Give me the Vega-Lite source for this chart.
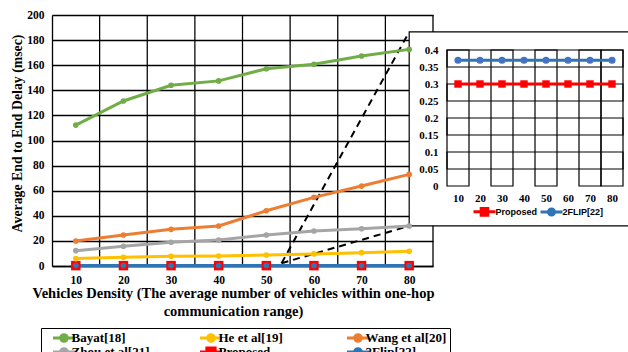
{
  "$schema": "https://vega.github.io/schema/vega-lite/v6.json",
  "width": 381,
  "height": 251,
  "autosize": "none",
  "padding": {"left": 52, "top": 15, "right": 195, "bottom": 86},
  "background": "white",
  "config": {
    "view": {"stroke": null},
    "font": "Liberation Serif",
    "axis": {"labelFont": "Liberation Serif", "labelFontWeight": "bold", "labelColor": "black", "titleFont": "Liberation Serif", "titleFontWeight": "bold", "titleColor": "black", "gridColor": "black", "gridOpacity": 1, "domainColor": "black"}
  },
  "datasets": {
    "main": [
      {"x": 10, "series": "Bayat[18]", "delay": 112.3}, {"x": 20, "series": "Bayat[18]", "delay": 131.5}, {"x": 30, "series": "Bayat[18]", "delay": 144}, {"x": 40, "series": "Bayat[18]", "delay": 147.5}, {"x": 50, "series": "Bayat[18]", "delay": 157.2}, {"x": 60, "series": "Bayat[18]", "delay": 160.7}, {"x": 70, "series": "Bayat[18]", "delay": 167.3}, {"x": 80, "series": "Bayat[18]", "delay": 172.6},
      {"x": 10, "series": "He et al[19]", "delay": 5.9}, {"x": 20, "series": "He et al[19]", "delay": 6.9}, {"x": 30, "series": "He et al[19]", "delay": 7.7}, {"x": 40, "series": "He et al[19]", "delay": 8}, {"x": 50, "series": "He et al[19]", "delay": 8.8}, {"x": 60, "series": "He et al[19]", "delay": 9.6}, {"x": 70, "series": "He et al[19]", "delay": 10.6}, {"x": 80, "series": "He et al[19]", "delay": 11.7},
      {"x": 10, "series": "Wang et al[20]", "delay": 19.9}, {"x": 20, "series": "Wang et al[20]", "delay": 24.7}, {"x": 30, "series": "Wang et al[20]", "delay": 29.2}, {"x": 40, "series": "Wang et al[20]", "delay": 31.9}, {"x": 50, "series": "Wang et al[20]", "delay": 44}, {"x": 60, "series": "Wang et al[20]", "delay": 54.7}, {"x": 70, "series": "Wang et al[20]", "delay": 63.7}, {"x": 80, "series": "Wang et al[20]", "delay": 73},
      {"x": 10, "series": "Zhou et al[21]", "delay": 12.2}, {"x": 20, "series": "Zhou et al[21]", "delay": 15.7}, {"x": 30, "series": "Zhou et al[21]", "delay": 18.9}, {"x": 40, "series": "Zhou et al[21]", "delay": 20.7}, {"x": 50, "series": "Zhou et al[21]", "delay": 24.7}, {"x": 60, "series": "Zhou et al[21]", "delay": 27.9}, {"x": 70, "series": "Zhou et al[21]", "delay": 29.7}, {"x": 80, "series": "Zhou et al[21]", "delay": 31.9},
      {"x": 10, "series": "Proposed", "delay": 0.3}, {"x": 20, "series": "Proposed", "delay": 0.3}, {"x": 30, "series": "Proposed", "delay": 0.3}, {"x": 40, "series": "Proposed", "delay": 0.3}, {"x": 50, "series": "Proposed", "delay": 0.3}, {"x": 60, "series": "Proposed", "delay": 0.3}, {"x": 70, "series": "Proposed", "delay": 0.3}, {"x": 80, "series": "Proposed", "delay": 0.3},
      {"x": 10, "series": "2Flip[22]", "delay": 0.37}, {"x": 20, "series": "2Flip[22]", "delay": 0.37}, {"x": 30, "series": "2Flip[22]", "delay": 0.37}, {"x": 40, "series": "2Flip[22]", "delay": 0.37}, {"x": 50, "series": "2Flip[22]", "delay": 0.37}, {"x": 60, "series": "2Flip[22]", "delay": 0.37}, {"x": 70, "series": "2Flip[22]", "delay": 0.37}, {"x": 80, "series": "2Flip[22]", "delay": 0.37}
    ],
    "inset": [
      {"x": 10, "series": "Proposed", "delay": 0.3}, {"x": 20, "series": "Proposed", "delay": 0.3}, {"x": 30, "series": "Proposed", "delay": 0.3}, {"x": 40, "series": "Proposed", "delay": 0.3}, {"x": 50, "series": "Proposed", "delay": 0.3}, {"x": 60, "series": "Proposed", "delay": 0.3}, {"x": 70, "series": "Proposed", "delay": 0.3}, {"x": 80, "series": "Proposed", "delay": 0.3},
      {"x": 10, "series": "2FLIP[22]", "delay": 0.37}, {"x": 20, "series": "2FLIP[22]", "delay": 0.37}, {"x": 30, "series": "2FLIP[22]", "delay": 0.37}, {"x": 40, "series": "2FLIP[22]", "delay": 0.37}, {"x": 50, "series": "2FLIP[22]", "delay": 0.37}, {"x": 60, "series": "2FLIP[22]", "delay": 0.37}, {"x": 70, "series": "2FLIP[22]", "delay": 0.37}, {"x": 80, "series": "2FLIP[22]", "delay": 0.37}
    ]
  },
  "resolve": {"scale": {"x": "independent", "y": "independent", "color": "independent"}, "legend": {"color": "independent"}},
  "layer": [
    {
      "data": {"values": [{}]},
      "layer": [
        {"mark": {"type": "rule", "strokeWidth": 1.3, "color": "black"}, "encoding": {"x": {"datum": 15, "type": "quantitative", "scale": {"domain": [5, 85], "nice": false, "zero": false, "range": [0, 381]}, "axis": null}, "x2": {"datum": 15.001}, "y": {"datum": 0, "type": "quantitative", "scale": {"domain": [0, 200], "nice": false, "range": [251, 0]}, "axis": null}, "y2": {"datum": 200}}},
        {"mark": {"type": "rule", "strokeWidth": 1.3, "color": "black"}, "encoding": {"x": {"datum": 25, "type": "quantitative", "axis": null}, "x2": {"datum": 25.001}, "y": {"datum": 0, "type": "quantitative", "axis": null}, "y2": {"datum": 200}}},
        {"mark": {"type": "rule", "strokeWidth": 1.3, "color": "black"}, "encoding": {"x": {"datum": 35, "type": "quantitative", "axis": null}, "x2": {"datum": 35.001}, "y": {"datum": 0, "type": "quantitative", "axis": null}, "y2": {"datum": 200}}},
        {"mark": {"type": "rule", "strokeWidth": 1.3, "color": "black"}, "encoding": {"x": {"datum": 45, "type": "quantitative", "axis": null}, "x2": {"datum": 45.001}, "y": {"datum": 0, "type": "quantitative", "axis": null}, "y2": {"datum": 200}}},
        {"mark": {"type": "rule", "strokeWidth": 1.3, "color": "black"}, "encoding": {"x": {"datum": 55, "type": "quantitative", "axis": null}, "x2": {"datum": 55.001}, "y": {"datum": 0, "type": "quantitative", "axis": null}, "y2": {"datum": 200}}},
        {"mark": {"type": "rule", "strokeWidth": 1.3, "color": "black"}, "encoding": {"x": {"datum": 65, "type": "quantitative", "axis": null}, "x2": {"datum": 65.001}, "y": {"datum": 0, "type": "quantitative", "axis": null}, "y2": {"datum": 200}}},
        {"mark": {"type": "rule", "strokeWidth": 1.3, "color": "black"}, "encoding": {"x": {"datum": 75, "type": "quantitative", "axis": null}, "x2": {"datum": 75.001}, "y": {"datum": 0, "type": "quantitative", "axis": null}, "y2": {"datum": 200}}},
        {"mark": {"type": "rule", "strokeWidth": 1.3, "color": "black"}, "encoding": {"x": {"datum": 85, "type": "quantitative", "axis": null}, "x2": {"datum": 84.999}, "y": {"datum": 0, "type": "quantitative", "axis": null}, "y2": {"datum": 200}}},
        {"mark": {"type": "rect", "fill": "white", "stroke": "black", "strokeWidth": 1.2},
         "encoding": {"x": {"datum": 80, "type": "quantitative", "axis": null}, "x2": {"datum": 127}, "y": {"datum": 186.5, "type": "quantitative", "axis": null}, "y2": {"datum": 32}}},
        {"mark": {"type": "rule", "strokeDash": [7, 5], "strokeWidth": 2, "color": "black"},
         "encoding": {"x": {"datum": 53.2, "type": "quantitative", "axis": null}, "x2": {"datum": 80}, "y": {"datum": 2.2, "type": "quantitative", "axis": null}, "y2": {"datum": 186.5}}},
        {"mark": {"type": "rule", "strokeDash": [7, 5], "strokeWidth": 2, "color": "black"},
         "encoding": {"x": {"datum": 53.2, "type": "quantitative", "axis": null}, "x2": {"datum": 80}, "y": {"datum": 2.2, "type": "quantitative", "axis": null}, "y2": {"datum": 31.9}}}
      ]
    },
    {
      "data": {"name": "main"},
      "encoding": {
        "x": {"field": "x", "type": "quantitative", "scale": {"domain": [5, 85], "nice": false, "zero": false},
          "axis": {"title": ["Vehicles Density (The average number of vehicles within one-hop", "communication range)"], "values": [10, 20, 30, 40, 50, 60, 70, 80], "format": "d", "labelAngle": 0, "ticks": false, "grid": false, "domainWidth": 1.3, "labelFontSize": 11.5, "labelPadding": 8, "titleFontSize": 14.5, "titleX": 181, "titleY": 20, "titleBaseline": "top", "titleAlign": "center", "titleLineHeight": 18}},
        "y": {"field": "delay", "type": "quantitative", "scale": {"domain": [0, 200], "nice": false},
          "axis": {"values": [0, 20, 40, 60, 80, 100, 120, 140, 160, 180, 200], "title": "Average End to End Delay (msec)", "ticks": false, "grid": true, "gridWidth": 1.3, "domainWidth": 1.3, "labelFontSize": 11.5, "labelPadding": 8, "titleFontSize": 13.8, "titleX": -35, "titleY": 118, "titleBaseline": "middle", "titleAlign": "center"}},
        "color": {"field": "series", "type": "nominal",
          "scale": {"domain": ["Bayat[18]", "He et al[19]", "Wang et al[20]", "Zhou et al[21]", "Proposed", "2Flip[22]"], "range": ["#70AD47", "#FFC000", "#ED7D31", "#A5A5A5", "#FF0000", "#2E75B6"]}}
      },
      "layer": [
        {"mark": {"type": "line", "strokeWidth": 3},
         "encoding": {"color": {"field": "series", "type": "nominal",
           "legend": {"orient": "none", "legendX": -11, "legendY": 313, "direction": "horizontal", "columns": 3, "gridAlign": "all", "columnPadding": 38, "rowPadding": 0, "clipHeight": 14, "title": null, "padding": 3, "strokeColor": "black", "fillColor": "white", "labelFont": "Liberation Serif", "labelFontWeight": "bold", "labelFontSize": 13, "labelColor": "black", "symbolOffset": 13, "labelOffset": 0.5, "symbolSize": 121, "symbolStrokeWidth": 3,
             "encode": {"symbols": {"update": {
               "shape": {"signal": "datum.value === 'Proposed' ? 'M-2,0L2,0M-0.75,-0.75L0.75,-0.75L0.75,0.75L-0.75,0.75Z' : 'M-2,0L2,0M-0.6,0A0.6,0.6,0,1,1,0.6,0A0.6,0.6,0,1,1,-0.6,0Z'"},
               "fill": {"signal": "['#70AD47','#FFC000','#ED7D31','#A5A5A5','#FF0000','#2E75B6'][indexof(['Bayat[18]','He et al[19]','Wang et al[20]','Zhou et al[21]','Proposed','2Flip[22]'], datum.value)]"},
               "stroke": {"signal": "['#70AD47','#FFC000','#ED7D31','#A5A5A5','#FF0000','#2E75B6'][indexof(['Bayat[18]','He et al[19]','Wang et al[20]','Zhou et al[21]','Proposed','2Flip[22]'], datum.value)]"},
               "opacity": {"value": 1}}}}}}}},
        {"transform": [{"filter": "datum.series === 'Proposed'"}],
         "mark": {"type": "square", "filled": true, "opacity": 1, "size": 90},
         "encoding": {"color": {"field": "series", "type": "nominal", "legend": null}}},
        {"transform": [{"filter": "datum.series !== 'Proposed'"}],
         "mark": {"type": "circle", "opacity": 1, "size": 32},
         "encoding": {"color": {"field": "series", "type": "nominal", "legend": null}}}
      ]
    },
    {
      "data": {"values": [{}]},
      "layer": [
        {"mark": {"type": "rect", "filled": false, "stroke": "black", "strokeWidth": 1.2}, "encoding": {"x": {"datum": 5, "type": "quantitative", "scale": {"domain": [5, 85], "nice": false, "zero": false, "range": [395, 571]}, "axis": null}, "x2": {"datum": 15}, "y": {"datum": 0, "type": "quantitative", "scale": {"domain": [0, 0.4], "nice": false, "range": [171, 35]}, "axis": null}, "y2": {"datum": 0.4}}},
        {"mark": {"type": "rect", "filled": false, "stroke": "black", "strokeWidth": 1.2}, "encoding": {"x": {"datum": 25, "type": "quantitative", "axis": null}, "x2": {"datum": 35}, "y": {"datum": 0, "type": "quantitative", "axis": null}, "y2": {"datum": 0.4}}},
        {"mark": {"type": "rect", "filled": false, "stroke": "black", "strokeWidth": 1.2}, "encoding": {"x": {"datum": 45, "type": "quantitative", "axis": null}, "x2": {"datum": 55}, "y": {"datum": 0, "type": "quantitative", "axis": null}, "y2": {"datum": 0.4}}},
        {"mark": {"type": "rect", "filled": false, "stroke": "black", "strokeWidth": 1.2}, "encoding": {"x": {"datum": 65, "type": "quantitative", "axis": null}, "x2": {"datum": 75}, "y": {"datum": 0, "type": "quantitative", "axis": null}, "y2": {"datum": 0.4}}},
        {"mark": {"type": "rect", "filled": false, "stroke": "black", "strokeWidth": 1.2}, "encoding": {"x": {"datum": 75, "type": "quantitative", "axis": null}, "x2": {"datum": 85}, "y": {"datum": 0, "type": "quantitative", "axis": null}, "y2": {"datum": 0.4}}},
        {"mark": {"type": "rect", "filled": false, "stroke": "black", "strokeWidth": 1.2}, "encoding": {"x": {"datum": 5, "type": "quantitative", "axis": null}, "x2": {"datum": 85}, "y": {"datum": 0.05, "type": "quantitative", "axis": null}, "y2": {"datum": 0.1}}},
        {"mark": {"type": "rect", "filled": false, "stroke": "black", "strokeWidth": 1.2}, "encoding": {"x": {"datum": 5, "type": "quantitative", "axis": null}, "x2": {"datum": 85}, "y": {"datum": 0.15, "type": "quantitative", "axis": null}, "y2": {"datum": 0.2}}},
        {"mark": {"type": "rect", "filled": false, "stroke": "black", "strokeWidth": 1.2}, "encoding": {"x": {"datum": 5, "type": "quantitative", "axis": null}, "x2": {"datum": 85}, "y": {"datum": 0.25, "type": "quantitative", "axis": null}, "y2": {"datum": 0.3}}},
        {"mark": {"type": "rect", "filled": false, "stroke": "black", "strokeWidth": 1.2}, "encoding": {"x": {"datum": 5, "type": "quantitative", "axis": null}, "x2": {"datum": 85}, "y": {"datum": 0.35, "type": "quantitative", "axis": null}, "y2": {"datum": 0.4}}}
      ]
    },
    {
      "data": {"name": "inset"},
      "encoding": {
        "x": {"field": "x", "type": "quantitative", "scale": {"domain": [5, 85], "nice": false, "zero": false, "range": [395, 571]},
          "axis": {"orient": "bottom", "offset": -80, "title": null, "values": [10, 20, 30, 40, 50, 60, 70, 80], "format": "d", "labelAngle": 0, "ticks": false, "domain": false, "grid": false, "labelFontSize": 11, "labelPadding": 6, "zindex": 1}},
        "y": {"field": "delay", "type": "quantitative", "scale": {"domain": [0, 0.4], "nice": false, "range": [171, 35]},
          "axis": {"orient": "left", "offset": -395, "title": null, "values": [0, 0.05, 0.1, 0.15, 0.2, 0.25, 0.3, 0.35, 0.4], "format": "~g", "ticks": false, "domain": false, "grid": false, "labelFontSize": 11, "labelPadding": 9, "zindex": 1}},
        "color": {"field": "series", "type": "nominal",
          "scale": {"domain": ["Proposed", "2FLIP[22]"], "range": ["#FF0000", "#2E75B6"]}}
      },
      "layer": [
        {"mark": {"type": "line", "strokeWidth": 3},
         "encoding": {"color": {"field": "series", "type": "nominal",
           "legend": {"orient": "none", "legendX": 420, "legendY": 189.5, "direction": "horizontal", "title": null, "padding": 0, "columnPadding": -4, "labelFont": "Liberation Sans", "labelFontWeight": "bold", "labelFontSize": 9, "labelColor": "black", "symbolOffset": 5.5, "labelOffset": 4, "symbolSize": 121, "symbolStrokeWidth": 3,
             "encode": {"symbols": {"update": {
               "shape": {"signal": "datum.value === 'Proposed' ? 'M-2,0L2,0M-0.6,-0.6L0.6,-0.6L0.6,0.6L-0.6,0.6Z' : 'M-2,0L2,0M-0.55,0A0.55,0.55,0,1,1,0.55,0A0.55,0.55,0,1,1,-0.55,0Z'"},
               "fill": {"signal": "datum.value === 'Proposed' ? '#FF0000' : '#4472C4'"},
               "stroke": {"signal": "datum.value === 'Proposed' ? '#FF0000' : '#2E75B6'"},
               "opacity": {"value": 1}}}}}}}},
        {"transform": [{"filter": "datum.series === 'Proposed'"}],
         "mark": {"type": "square", "filled": true, "opacity": 1, "size": 55},
         "encoding": {"color": {"field": "series", "type": "nominal", "legend": null}}},
        {"transform": [{"filter": "datum.series !== 'Proposed'"}],
         "mark": {"type": "circle", "opacity": 1, "size": 50},
         "encoding": {"color": {"value": "#4472C4"}}}
      ]
    }
  ]
}
